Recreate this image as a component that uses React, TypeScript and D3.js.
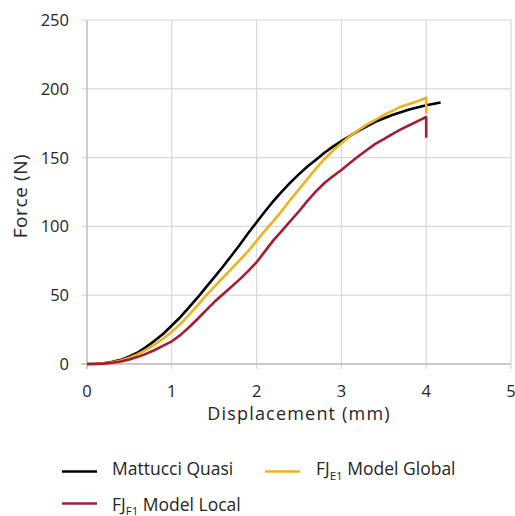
import React from "react";
import * as d3 from "d3";

// Force–displacement curves (displacement in mm, force in N)
const mattucciX = [0, 0.1, 0.2, 0.3, 0.4, 0.5, 0.6, 0.7, 0.8, 0.9, 1.0, 1.1, 1.2, 1.3, 1.4, 1.5, 1.6, 1.7, 1.8, 1.9, 2.0, 2.1, 2.2, 2.3, 2.4, 2.5, 2.6, 2.7, 2.8, 2.9, 3.0, 3.2, 3.4, 3.6, 3.8, 4.0, 4.17];
const mattucciY = [0, 0.15, 0.6, 1.6, 3, 5.5, 8.5, 12.5, 17, 22, 28, 34, 41, 48, 55.5, 63, 70.5, 78.5, 86.5, 95, 103, 111, 118.5, 125.5, 132, 138, 143.5, 148.5, 153.5, 158, 162, 169.5, 176, 181, 185, 188, 190];

const globalX = [0, 0.1, 0.2, 0.3, 0.4, 0.5, 0.6, 0.7, 0.8, 0.9, 1.0, 1.1, 1.2, 1.3, 1.4, 1.5, 1.6, 1.7, 1.8, 1.9, 2.0, 2.1, 2.2, 2.3, 2.4, 2.5, 2.6, 2.7, 2.8, 2.9, 3.0, 3.1, 3.2, 3.3, 3.4, 3.5, 3.6, 3.7, 3.8, 3.9, 4.0, 4.0];
const globalY = [0, 0.12, 0.5, 1.3, 2.6, 4.6, 7.2, 10.5, 14.3, 18.5, 23.5, 29, 35.5, 42.5, 49.5, 56, 62.5, 69, 75.5, 82, 89.5, 97, 104, 111.5, 119.5, 127, 134.5, 142, 149, 155, 160.5, 165.5, 170, 174, 177.5, 181, 184, 187, 189, 191, 193.5, 182];

const localX = [0, 0.1, 0.2, 0.3, 0.4, 0.5, 0.6, 0.7, 0.8, 0.9, 1.0, 1.1, 1.2, 1.3, 1.4, 1.5, 1.6, 1.7, 1.8, 1.9, 2.0, 2.1, 2.2, 2.3, 2.4, 2.5, 2.6, 2.7, 2.8, 2.9, 3.0, 3.1, 3.2, 3.3, 3.4, 3.5, 3.6, 3.7, 3.8, 3.9, 4.0, 4.0];
const localY = [0, 0.08, 0.3, 0.9, 1.8, 3.3, 5.2, 7.5, 10.2, 13.3, 16.5, 21, 26.5, 32.5, 38.8, 45, 50.5, 56, 61.5, 67.5, 74, 82, 90, 97, 104, 111, 118.5, 125.5, 131.5, 136.5, 141, 146, 151, 155.5, 160, 163.5, 167, 170.5, 173.5, 176.5, 179.5, 164.5];

const xTicks = [0, 1, 2, 3, 4, 5];
const yTicks = [0, 50, 100, 150, 200, 250];

const W = 515;
const H = 516;
const plot = { left: 87, right: 511, top: 20, bottom: 364 };
const font = "'Open Sans', sans-serif";
const gridColor = "#d9d9d9";
const textColor = "#262626";

const series = [
  { name: "mattucci", xs: mattucciX, ys: mattucciY, color: "#000000" },
  { name: "global", xs: globalX, ys: globalY, color: "#EEB21E" },
  { name: "local", xs: localX, ys: localY, color: "#A61D33" },
];

export default function App() {
  const x = d3.scaleLinear().domain([0, 5]).range([plot.left, plot.right]);
  const y = d3.scaleLinear().domain([0, 250]).range([plot.bottom, plot.top]);
  const line = d3
    .line<[number, number]>()
    .x((d) => x(d[0]))
    .y((d) => y(d[1]));

  const legendLine = (x0: number, yy: number, color: string) => (
    <line x1={x0} x2={x0 + 35} y1={yy} y2={yy} stroke={color} strokeWidth={2.5} />
  );

  return (
    <svg
      width={W}
      height={H}
      style={{ position: "absolute", left: 0, top: 0, background: "#fff" }}
      fontFamily={font}
    >
      {/* grid */}
      {yTicks.map((t) => (
        <line key={"gy" + t} x1={plot.left - 6} x2={plot.right} y1={y(t)} y2={y(t)} stroke={gridColor} strokeWidth={1.2} />
      ))}
      {xTicks.map((t) => (
        <line key={"gx" + t} x1={x(t)} x2={x(t)} y1={plot.top} y2={plot.bottom + 5} stroke={gridColor} strokeWidth={1.2} />
      ))}
      {/* axes */}
      <line x1={plot.left} x2={plot.left} y1={plot.top} y2={plot.bottom + 5} stroke="#bfbfbf" strokeWidth={1.3} />
      <line x1={plot.left - 6} x2={plot.right} y1={plot.bottom} y2={plot.bottom} stroke="#bfbfbf" strokeWidth={1.3} />

      {/* tick labels */}
      {yTicks.map((t) => (
        <text key={"ly" + t} x={69} y={y(t)} dy="0.36em" textAnchor="end" fontSize={16.5} fill={textColor}>
          {t}
        </text>
      ))}
      {xTicks.map((t) => (
        <text key={"lx" + t} x={x(t)} y={396.5} textAnchor="middle" fontSize={16.5} fill={textColor}>
          {t}
        </text>
      ))}

      {/* axis titles */}
      <text x={(plot.left + plot.right) / 2} y={420} textAnchor="middle" fontSize={18} letterSpacing={1.2} fill={textColor}>
        Displacement (mm)
      </text>
      <text transform="translate(27,196) rotate(-90)" textAnchor="middle" fontSize={19} letterSpacing={0.6} fill={textColor}>
        Force (N)
      </text>

      {/* curves */}
      {series.map((s) => (
        <path
          key={s.name}
          d={line(s.xs.map((v, i) => [v, s.ys[i]] as [number, number])) || ""}
          fill="none"
          stroke={s.color}
          strokeWidth={2.6}
          strokeLinejoin="round"
        />
      ))}

      {/* legend */}
      {legendLine(62, 471.5, "#000000")}
      <text x={112} y={474.5} fontSize={17.5} fill={textColor}>Mattucci Quasi</text>
      {legendLine(265, 471.5, "#EEB21E")}
      <text x={316} y={474.5} fontSize={17.5} fill={textColor}>
        FJ<tspan fontSize={11.5} dy={5}>E1</tspan>
        <tspan dy={-5}> Model Global</tspan>
      </text>
      {legendLine(62, 503.5, "#A61D33")}
      <text x={112} y={510.5} fontSize={17.5} fill={textColor}>
        FJ<tspan fontSize={11.5} dy={4.5}>F1</tspan>
        <tspan dy={-4.5}> Model Local</tspan>
      </text>
    </svg>
  );
}
